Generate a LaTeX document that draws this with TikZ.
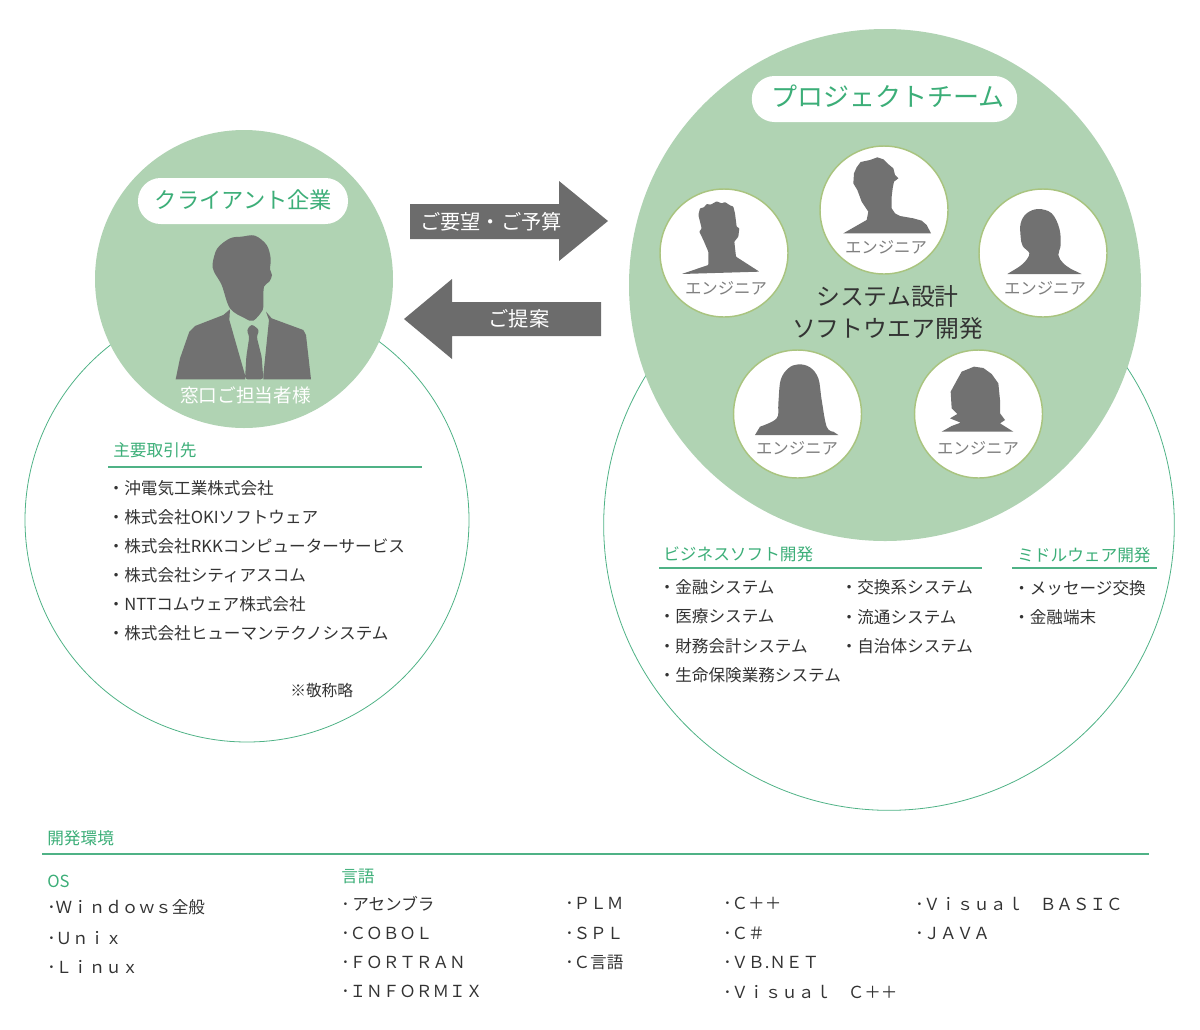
\documentclass[tikz,border=0pt]{standalone}
\usepackage{fontspec}
\setmainfont{Noto Sans CJK JP}
\usepackage{xcolor}
\definecolor{circleGreen}{HTML}{B0D3B3}
\definecolor{lineGreen}{HTML}{4FB286}
\definecolor{titleGreen}{HTML}{3CAE78}
\definecolor{ringGreen}{HTML}{A9C47F}
\definecolor{shadowGray}{HTML}{717171}
\definecolor{arrowGray}{HTML}{6C6C6C}
\definecolor{labelGray}{HTML}{808080}
\definecolor{textDark}{HTML}{333333}
\tikzset{
  teamdisc/.style   = {circle, fill=circleGreen, inner sep=0pt},
  outlinedisc/.style= {circle, draw=lineGreen, line width=0.6pt, inner sep=0pt},
  pill/.style       = {rectangle, rounded corners=17pt, fill=white, inner sep=0pt},
  pilltext/.style   = {text=titleGreen, inner sep=0pt},
  member/.style     = {circle, draw=ringGreen, fill=white, line width=1.1pt,
                       minimum size=96pt, inner sep=0pt},
  memberlabel/.style= {font=\fontsize{12.3pt}{14pt}\selectfont, text=labelGray, inner sep=0pt},
  silhouette/.style = {fill=shadowGray, rounded corners=2pt},
  blockarrow/.style = {fill=arrowGray},
  arrowlabel/.style = {font=\fontsize{15.2pt}{18pt}\selectfont, text=white, inner sep=0pt},
  heading/.style    = {font=\fontsize{12.5pt}{15pt}\selectfont, text=titleGreen,
                       anchor=west, inner sep=0pt},
  item/.style       = {font=\fontsize{12.45pt}{15pt}\selectfont, text=textDark,
                       anchor=west, inner sep=0pt, yshift=-0.5pt},
  rule/.style       = {draw=lineGreen, line width=0.8pt}
}
\begin{document}
\begin{tikzpicture}[x=0.75pt, y=-0.75pt]
\useasboundingbox (0,0) rectangle (1200,1029);
% Outline circles behind the filled ones
\node[outlinedisc, minimum size=333pt] (clientring) at (247,520) {};
\node[outlinedisc, minimum size=428pt] (teamring) at (889,525) {};
\node[teamdisc, minimum size=223.5pt] (clientdisc) at (244,279) {};
\node[teamdisc, minimum size=384pt] (teamdisc) at (885,285) {};
% Titles
\node[pill, minimum width=157.5pt, minimum height=34.5pt] (clientpill) at (243,201) {};
\node[pilltext, font=\fontsize{16.7pt}{20pt}\selectfont] (clienttitle) at (243.5,200) {クライアント企業};
\node[pill, minimum width=199pt, minimum height=34.5pt] (teampill) at (884.5,99) {};
\node[pilltext, font=\fontsize{19.5pt}{23pt}\selectfont] (teamtitle) at (888,96.5) {プロジェクトチーム};
% Client person
\begin{scope}[shift={(130,170)}, scale=1/3]
  \fill[shadowGray] plot[smooth cycle, tension=0.55] coordinates {(248,280) (262,235) (300,205)
    (335,200) (375,197) (410,225) (422,265) (420,298) (426,315) (418,335) (402,350)
    (400,395) (398,420) (370,452) (345,445) (300,415) (275,345) (252,305)};
  \fill[shadowGray] (137,628) -- (150,565) -- (178,485) -- (195,468) -- (280,435)
    -- (300,418) -- (298,450) -- (345,615) -- (345,628) -- cycle;
  \fill[shadowGray] (408,425) -- (425,445) -- (520,480) -- (528,495) -- (543,628)
    -- (400,628) -- (400,615) -- (417,450) -- cycle;
  \fill[silhouette] (350,480) -- (365,462) -- (388,480) -- (380,500) -- (395,560)
    -- (400,628) -- (345,628) -- (349,560) -- (358,500) -- cycle;
\end{scope}
\node[font=\fontsize{14pt}{17pt}\selectfont, text=white, inner sep=0pt] (clientlabel)
     at (245.5,395) {窓口ご担当者様};
% Request and proposal arrows
\fill[blockarrow] (410,204) -- (559,204) -- (559,181) -- (608,221) -- (559,261)
                  -- (559,239) -- (410,239) -- cycle;
\node[arrowlabel] (request) at (491,222) {ご要望・ご予算};
\fill[blockarrow] (601,302) -- (452,302) -- (452,279) -- (404,319) -- (452,359)
                  -- (452,336) -- (601,336) -- cycle;
\node[arrowlabel] (proposal) at (519,319) {ご提案};
% Engineers
\foreach \i/\x/\y in {1/724/253, 2/884/210, 3/1043/253, 4/797.5/414, 5/978.5/414}{
  \node[member] (eng\i) at (\x,\y) {};
}
\begin{scope}[shift={(640,130)}, scale=1/3]
  \fill[silhouette, rounded corners=0.5pt] (125,432) -- (205,405) -- (205,365) -- (190,330) -- (178,305)
    -- (185,295) -- (175,255) -- (180,235) -- (192,232) -- (200,222) -- (212,224) -- (230,214)
    -- (245,220) -- (255,216) -- (270,226) -- (280,230) -- (285,250) -- (290,290) -- (298,295)
    -- (295,320) -- (283,335) -- (288,380) -- (358,425) -- cycle;
  \fill[shadowGray] (610,310) -- (680,270) -- (685,245) -- (665,215) -- (652,180)
    -- (640,160) -- (642,130) -- (650,112) -- (662,96) -- (690,90) -- (712,82) -- (730,88)
    -- (742,100) -- (760,115) -- (765,135) -- (775,145) -- (762,155) -- (758,175)
    -- (755,200) -- (755,235) -- (765,250) -- (780,258) -- (820,265) -- (845,272)
    -- (860,285) -- (873,310) -- cycle;
  \fill[shadowGray] (1102,432) -- plot[smooth, tension=0.6] coordinates {(1135,412) (1155,395)
    (1168,370) (1148,348) (1142,320) (1142,280) (1160,250) (1195,237) (1235,250) (1258,295)
    (1262,345) (1255,375) (1270,400) (1295,418)} -- (1325,432) -- cycle;
\end{scope}
\begin{scope}[shift={(720,340)}, scale=1/3]
  \fill[shadowGray] (105,285) -- plot[smooth, tension=0.6] coordinates {(120,260) (170,235)
    (175,190) (182,120) (205,85) (235,73) (270,82) (295,115) (305,180) (320,260) (340,275)}
    -- (355,285) -- cycle;
  \fill[shadowGray] (665,275) -- (695,258) -- (722,248) -- (690,235) -- (712,222)
    -- (695,205) -- (692,155) -- (710,122) -- (725,95) -- (762,80) -- (790,84) -- (815,102)
    -- (835,130) -- (840,180) -- (840,220) -- (855,240) -- (840,250) -- (880,275) -- cycle;
\end{scope}
\foreach \i/\lx/\ly in {1/726/288.5, 2/886/247, 3/1045/288.5, 4/797/448.5, 5/978/448.5}{
  \node[memberlabel] (englabel\i) at (\lx,\ly) {エンジニア};
}
\node[font=\fontsize{17.9pt}{24pt}\selectfont, text=textDark, align=center, inner sep=0pt]
     (teamwork) at (887.5,313) {システム設計\\ソフトウエア開発};
% Main clients
\node[heading] (clienthead) at (113,450) {主要取引先};
\draw[rule] (108,467) coordinate (clientruleA) -- (422,467) coordinate (clientruleB);
\foreach \i/\y/\t in {
    1/488/沖電気工業株式会社,
    2/517/株式会社OKIソフトウェア,
    3/546/株式会社RKKコンピューターサービス,
    4/575/株式会社シティアスコム,
    5/604/NTTコムウェア株式会社,
    6/633/株式会社ヒューマンテクノシステム}{
  \node[item] (client\i) at (107.5,\y) {・\t};
}
\node[item, font=\fontsize{11.8pt}{14pt}\selectfont] (clientnote) at (290,690) {※敬称略};
% Business software and middleware
\node[heading] (bizhead) at (663,554) {ビジネスソフト開発};
\draw[rule] (659,568) coordinate (bizruleA) -- (982,568) coordinate (bizruleB);
\node[heading] (midhead) at (1017,555) {ミドルウェア開発};
\draw[rule] (1012,568) coordinate (midruleA) -- (1157,568) coordinate (midruleB);
\foreach \n/\x/\y/\t in {
    a/658.5/587/金融システム,
    b/658.5/616/医療システム,
    c/658.5/646/財務会計システム,
    d/658.5/675/生命保険業務システム,
    e/840.5/587/交換系システム,
    f/840.5/616/流通システム,
    g/840.5/646/自治体システム,
    h/1013/588/メッセージ交換,
    i/1013/617/金融端末}{
  \node[item] (biz\n) at (\x,\y) {・\t};
}
% Development environment
\node[heading] (envhead) at (47,838) {開発環境};
\draw[rule, line width=1.1pt] (42,854) coordinate (envruleA) -- (1149,854) coordinate (envruleB);
\node[heading] (oshead) at (47,881) {OS};
\node[heading] (langhead) at (341,876) {言語};
\foreach \n/\x/\y/\t in {
    a/47/907/Ｗｉｎｄｏｗｓ全般,
    b/47/937/Ｕｎｉｘ,
    c/47/966/Ｌｉｎｕｘ,
    d/341/903/\,アセンブラ,
    e/341/933/ＣＯＢＯＬ,
    f/341/962/ＦＯＲＴＲＡＮ,
    g/341/991/ＩＮＦＯＲＭＩＸ,
    h/565/903/ＰＬＭ,
    i/565/933/ＳＰＬ,
    j/565/962/Ｃ言語,
    k/723/903/Ｃ＋＋,
    l/723/933/Ｃ＃,
    m/723/962/ＶＢ.ＮＥＴ,
    n/723/991/Ｖｉｓｕａｌ　Ｃ＋＋,
    o/915/903/Ｖｉｓｕａｌ　ＢＡＳＩＣ,
    p/915/933/ＪＡＶＡ}{
  \node[item] (env\n) at (\x,\y) {･\t};
}
\end{tikzpicture}
\end{document}
